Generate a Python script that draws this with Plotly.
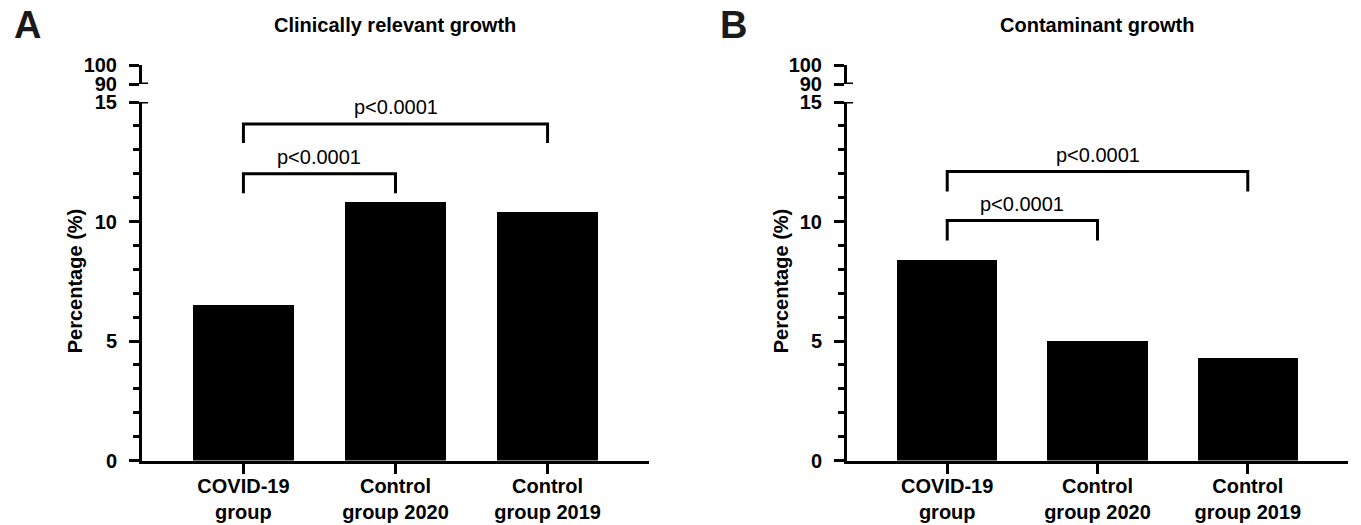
import plotly.graph_objects as go

# ---------------- data ----------------
categories = ["COVID-19<br>group", "Control<br>group 2020", "Control<br>group 2019"]
clinically_relevant = [6.5, 10.8, 10.4]
contaminant = [8.4, 5.0, 4.3]
panel_titles = ["Clinically relevant growth", "Contaminant growth"]
panel_letters = ["A", "B"]
y_title = "Percentage (%)"
p_label = "p<0.0001"
lower_ticks = [0, 5, 10, 15]
upper_ticks = [90, 100]
# comparisons: bar 0 vs bar N
bracket_targets = [1, 2]
brackets_A_top = [12.0, 14.08]
brackets_A_leg = [11.18, 13.28]
brackets_B_top = [10.04, 12.09]
brackets_B_leg = [9.21, 11.26]

W, H = 1361, 525
FONT = "Liberation Sans, Arial, Helvetica, sans-serif"


def px_x(p):
    return p / W


def px_y(p):
    return 1 - p / H


fig = go.Figure()

panels = [
    dict(values=clinically_relevant, tops=brackets_A_top, legs=brackets_A_leg,
         x0=142, x1=649, xs="x", ys="y", ys2="y2", xname="xaxis", yname="yaxis",
         y2name="yaxis2", ytitle_x=75, letter_x=27),
    dict(values=contaminant, tops=brackets_B_top, legs=brackets_B_leg,
         x0=847, x1=1348, xs="x2", ys="y3", ys2="y4", xname="xaxis2", yname="yaxis3",
         y2name="yaxis4", ytitle_x=781, letter_x=733),
]

y_bottom_px, y_top_px = 460.5, 102
y2_bottom_px, y2_top_px = 84, 65

for i, p in enumerate(panels):
    # bars
    fig.add_trace(go.Bar(x=categories, y=p["values"], width=0.667,
                         marker=dict(color="black", line=dict(width=0)),
                         xaxis=p["xs"], yaxis=p["ys"], showlegend=False,
                         hoverinfo="x+y"))
    # invisible trace to create the upper (broken) axis segment
    fig.add_trace(go.Scatter(x=[categories[0]], y=[None], xaxis=p["xs"], yaxis=p["ys2"],
                             mode="markers", showlegend=False, hoverinfo="skip"))
    # significance brackets
    for tgt, top, leg in zip(bracket_targets, p["tops"], p["legs"]):
        fig.add_trace(go.Scatter(
            x=[categories[0], categories[0], categories[tgt], categories[tgt]],
            y=[leg, top, top, leg], mode="lines",
            line=dict(color="black", width=3), xaxis=p["xs"], yaxis=p["ys"],
            showlegend=False, hoverinfo="skip"))
        fig.add_annotation(x=tgt / 2, y=top, xref=p["xs"], yref=p["ys"],
                           text=p_label, showarrow=False, xanchor="center",
                           yanchor="middle", yshift=17,
                           font=dict(family=FONT, size=20, color="black"))

    axis_common = dict(showline=True, linewidth=3, linecolor="black", showgrid=False,
                       zeroline=False, ticks="outside", tickwidth=3, tickcolor="black",
                       fixedrange=True, automargin=False)
    fig.layout[p["xname"]] = dict(
        domain=[px_x(p["x0"]), px_x(p["x1"])], range=[-0.667, 2.667], type="category",
        anchor=p["ys"], ticklen=10, ticklabelstandoff=-5,
        tickfont=dict(family=FONT, size=20, color="black", weight="bold"), **axis_common)
    fig.layout[p["yname"]] = dict(
        domain=[px_y(y_bottom_px), px_y(y_top_px)], range=[0, 15], tickvals=lower_ticks,
        anchor=p["xs"], ticklen=10, ticklabelstandoff=8,
        minor=dict(dtick=1, ticks="outside", ticklen=6, tickwidth=3, tickcolor="black",
                   showgrid=False),
        tickfont=dict(family=FONT, size=20, color="black", weight="bold"), **axis_common)
    fig.layout[p["y2name"]] = dict(
        domain=[px_y(y2_bottom_px), px_y(y2_top_px)], range=[90, 100], tickvals=upper_ticks,
        anchor=p["xs"], ticklen=10, ticklabelstandoff=8,
        tickfont=dict(family=FONT, size=20, color="black", weight="bold"), **axis_common)

    # break caps (small right-hand extension of ticks at the break)
    fig.add_shape(type="line", xref=f"{p['xs']} domain", yref=p["ys"],
                  x0=-0.006, x1=0.012, y0=15, y1=15, line=dict(color="black", width=3))
    fig.add_shape(type="line", xref=f"{p['xs']} domain", yref=p["ys2"],
                  x0=-0.006, x1=0.012, y0=90, y1=90, line=dict(color="black", width=3))

    # panel title
    fig.add_annotation(x=px_x((p["x0"] + p["x1"]) / 2 - 1), y=px_y(25), xref="paper", yref="paper",
                       text=panel_titles[i], showarrow=False, xanchor="center", yanchor="middle",
                       font=dict(family=FONT, size=20, color="black", weight="bold"))
    # panel letter
    fig.add_annotation(x=px_x(p["letter_x"]), y=px_y(25), xref="paper", yref="paper",
                       text=panel_letters[i], showarrow=False, xanchor="center", yanchor="middle",
                       font=dict(family=FONT, size=38, color="#1a1a1a", weight="bold"))
    # y-axis title
    fig.add_annotation(x=px_x(p["ytitle_x"]), y=px_y((y_bottom_px + y_top_px) / 2),
                       xref="paper", yref="paper", text=y_title, textangle=-90,
                       showarrow=False, xanchor="center", yanchor="middle",
                       font=dict(family=FONT, size=20, color="black", weight="bold"))

fig.update_layout(width=W, height=H, margin=dict(l=0, r=0, t=0, b=0),
                  plot_bgcolor="white", paper_bgcolor="white", bargap=0,
                  font=dict(family=FONT, color="black"))

fig.write_html("out.html", config={"displayModeBar": False},
               post_script="document.body.style.margin='0';"
                           "document.body.style.overflow='hidden';")
